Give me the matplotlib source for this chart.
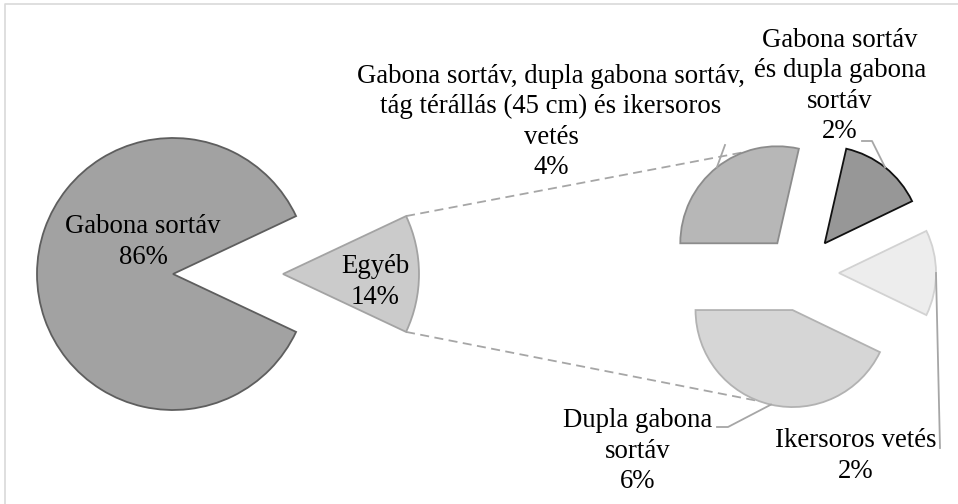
import numpy as np
import matplotlib.pyplot as plt

# pie of pie: main split and the breakdown of "Egyéb"
main_labels = ['Egyéb', 'Gabona sortáv']
main_values = [14, 86]
main_pct = ['14%', '86%']

sec_labels = ['Ikersoros vetés',
              'Gabona sortáv\nés dupla gabona\nsortáv',
              'Gabona sortáv, dupla gabona sortáv,\ntág térállás (45 cm) és ikersoros\nvetés',
              'Dupla gabona\nsortáv']
sec_values = [2, 2, 4, 6]
sec_pct = ['2%', '2%', '4%', '6%']

W, H = 958, 504
plt.rcParams['font.family'] = ['Liberation Serif', 'DejaVu Serif']

fig = plt.figure(figsize=(W / 100, H / 100), dpi=100)
ax = fig.add_axes([0, 0, 1, 1])


def py(y):
    # picture rows -> axis y
    return H - y


main_c = (173, py(274))
main_r = 136
sec_c = (801, py(273))
sec_r = 97

main_w, _ = ax.pie(main_values, center=main_c, radius=main_r,
                   explode=[110, 0],
                   startangle=-360 * main_values[0] / sum(main_values) / 2,
                   colors=['#cbcbcb', '#a2a2a2'],
                   wedgeprops=dict(linewidth=1.3))
main_w[0].set_edgecolor('#a3a3a3')
main_w[1].set_edgecolor('#5e5e5e')

sec_w, _ = ax.pie(sec_values, center=sec_c, radius=sec_r,
                  explode=[38] * 4,
                  startangle=-360 * sec_values[0] / sum(sec_values) / 2,
                  colors=['#ededed', '#979797', '#b7b7b7', '#d6d6d6'],
                  wedgeprops=dict(linewidth=1.3))
for w, ec in zip(sec_w, ['#d2d2d2', '#111111', '#8c8c8c', '#b2b2b2']):
    w.set_edgecolor(ec)

ax.set_xlim(0, W)
ax.set_ylim(0, H)
ax.set_aspect('equal')
ax.axis('off')


def arc_pt(w, ang=None):
    if ang is None:
        ang = (w.theta1 + w.theta2) / 2
    a = np.radians(ang)
    return w.center[0] + w.r * np.cos(a), w.center[1] + w.r * np.sin(a)


# dashed connectors between the two pies
eg = main_w[0]
p1 = arc_pt(eg, eg.theta2)
p2 = arc_pt(sec_w[2], 110)
q1 = arc_pt(eg, eg.theta1)
q2 = arc_pt(sec_w[3], 250)
for a, b in [(p1, p2), (q1, q2)]:
    ax.plot([a[0], b[0]], [a[1], b[1]], color='#a6a6a6', lw=1.3,
            ls=(0, (5, 3)), zorder=0)

# leader lines
lc = '#a6a6a6'
m = arc_pt(sec_w[2])
ax.plot([m[0], 725], [m[1], py(145)], color=lc, lw=1.3)
m = arc_pt(sec_w[1])
ax.plot([m[0], 872, 862], [m[1], py(141), py(141)], color=lc, lw=1.3)
m = arc_pt(sec_w[0])
ax.plot([m[0], 940], [m[1], py(448)], color=lc, lw=1.3)
m = arc_pt(sec_w[3])
ax.plot([m[0], 728, 717], [m[1], py(427), py(427)], color=lc, lw=1.3)

# chart border (only top and left are inside the picture)
ax.plot([5, 5, W], [0, py(4), py(4)], color='#d9d9d9', lw=1.2)

fs = 19.3
txt = dict(ha='center', va='center', fontsize=fs, linespacing=1.28, color='black')
ax.text(143, py(242), main_labels[1] + '\n' + main_pct[1], **txt)
ax.text(375, py(282), main_labels[0] + '\n' + main_pct[0], **txt)

sec_pos = [(856, 456), (840, 86), (551, 122), (638, 451)]
for lab, pct, (x, y) in zip(sec_labels, sec_pct, sec_pos):
    ax.text(x, py(y), lab + '\n' + pct, **txt)

fig.savefig('out.png', dpi=100)
